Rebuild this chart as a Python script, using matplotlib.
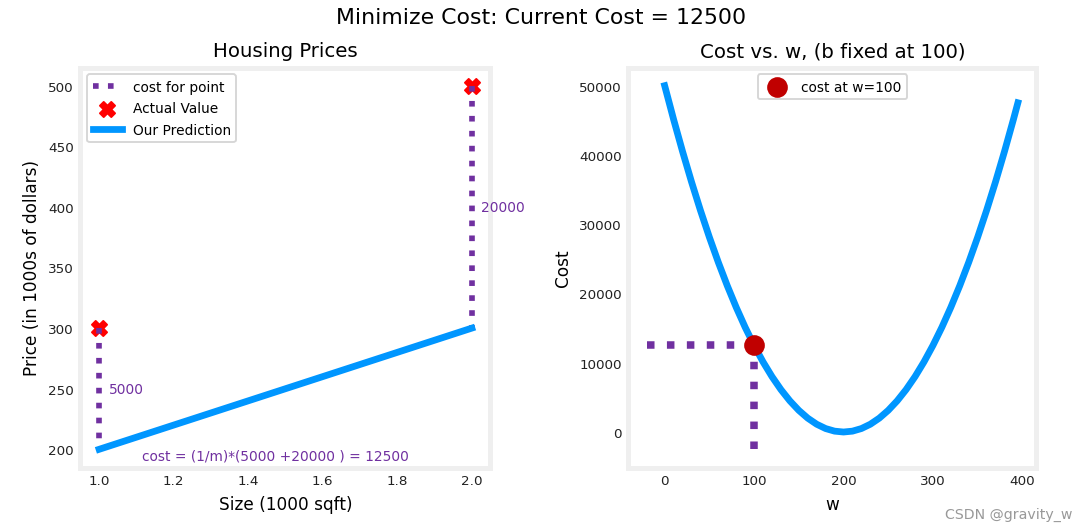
import numpy as np
import matplotlib.pyplot as plt

# colours from the deeplearning style
dlblue = '#0096ff'
dldarkred = '#C00000'
dlpurple = '#7030A0'

# training data
x_train = [1.0, 2.0]
y_train = [300, 500]
w_cur = 100
b_fixed = 100
pred = [200, 300]          # w*x + b for each point
point_cost = [5000, 20000]  # cost per point
cur_cost = 12500

# cost curve, b fixed at 100
w_vals = [0, 10, 20, 30, 40, 50, 60, 70, 80, 90, 100, 110, 120, 130, 140, 150,
          160, 170, 180, 190, 200, 210, 220, 230, 240, 250, 260, 270, 280, 290,
          300, 310, 320, 330, 340, 350, 360, 370, 380, 390, 395]
cost_vals = [50000, 45125, 40500, 36125, 32000, 28125, 24500, 21125, 18000, 15125,
             12500, 10125, 8000, 6125, 4500, 3125, 2000, 1125, 500, 125, 0,
             125, 500, 1125, 2000, 3125, 4500, 6125, 8000, 10125, 12500, 15125,
             18000, 21125, 24500, 28125, 32000, 36125, 40500, 45125, 47531]

plt.rcParams['font.family'] = ['DejaVu Sans']
plt.rcParams['axes.edgecolor'] = '#efefef'
plt.rcParams['axes.linewidth'] = 2.6
plt.rcParams['xtick.major.size'] = 0
plt.rcParams['ytick.major.size'] = 0
plt.rcParams['xtick.color'] = '#222222'
plt.rcParams['ytick.color'] = '#222222'
plt.rcParams['xtick.labelsize'] = 7.2
plt.rcParams['ytick.labelsize'] = 7.2
plt.rcParams['legend.fontsize'] = 7.3
plt.rcParams['axes.titlesize'] = 10.5
plt.rcParams['axes.labelsize'] = 9

fig, ax = plt.subplots(1, 2, figsize=(8.0, 3.937), dpi=135.375)
ax[0].set_position([0.0743, 0.121, 0.3786, 0.7505])
ax[1].set_position([0.5803, 0.121, 0.3767, 0.7505])

# left: housing prices with cost lines
label = 'cost for point'
for xp, yp, fp, cp in zip(x_train, y_train, pred, point_cost):
    ax[0].vlines(xp, yp, fp, lw=3, color=dlpurple, ls='dotted', label=label)
    label = ''
    ax[0].annotate(f'{cp:0.0f}', xy=(xp, yp + (fp - yp) / 2), xycoords='data',
                   color=dlpurple, xytext=(5, 0), textcoords='offset points',
                   fontsize=7.3, va='center')
cstr = "cost = (1/m)*(" + " +".join(f"{c:0.0f}" for c in point_cost) + f" ) = {cur_cost:0.0f}"
ax[0].text(0.15, 0.02, cstr, transform=ax[0].transAxes, color=dlpurple, fontsize=7.3)

ax[0].scatter(x_train, y_train, marker='X', s=65, c='r', label="Actual Value")
ax[0].plot(x_train, pred, c=dlblue, lw=3.6, label="Our Prediction")
ax[0].set_title("Housing Prices")
ax[0].set_ylabel('Price (in 1000s of dollars)')
ax[0].set_xlabel('Size (1000 sqft)')
ax[0].legend(loc='upper left', handlelength=2.1, borderpad=0.4, labelspacing=0.55)

# right: cost vs w
ax[1].plot(w_vals, cost_vals, c=dlblue, lw=3.6)
ax[1].scatter(w_cur, cur_cost, s=100, color=dldarkred, zorder=10, label=f"cost at w={w_cur}")
ax[1].hlines(cur_cost, ax[1].get_xlim()[0], w_cur, lw=4, color=dlpurple, ls='dotted')
ax[1].vlines(w_cur, ax[1].get_ylim()[0], cur_cost, lw=4, color=dlpurple, ls='dotted')
ax[1].set_title("Cost vs. w, (b fixed at 100)")
ax[1].set_ylabel('Cost')
ax[1].set_xlabel('w')
ax[1].legend(loc='upper center', borderpad=0.4)

fig.suptitle(f"Minimize Cost: Current Cost = {cur_cost:0.0f}", fontsize=11.7, y=0.985)
fig.text(0.99, 0.02, "CSDN @gravity_w", ha='right', va='bottom', fontsize=7.5, color='#999999')

fig.savefig('out.png', dpi=135.375)
